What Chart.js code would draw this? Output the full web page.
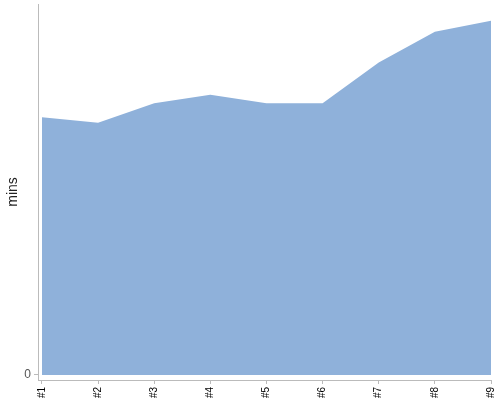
<!DOCTYPE html>
<html>
<head>
<meta charset="utf-8">
<script src="https://cdn.jsdelivr.net/npm/chart.js@4/dist/chart.umd.min.js"></script>
<style>
  html, body { margin: 0; padding: 0; background: #fff; }
  #wrap { width: 500px; height: 400px; }
</style>
</head>
<body>
<div id="wrap"><canvas id="area"></canvas></div>
<script>
const labels = ['#1', '#2', '#3', '#4', '#5', '#6', '#7', '#8', '#9'];
const minutes = [27.8, 27.2, 29.3, 30.2, 29.3, 29.3, 33.7, 37.0, 38.2];
const yTicks = [0];

// area chart
document.addEventListener('DOMContentLoaded', () => {
    const ctx = document.getElementById('area')?.getContext('2d');

    if (!ctx) return;

    const data = {
        datasets: [{
            label: 'mins',
            data: minutes.map((v, i) => ({ x: i, y: v })),
            fill: 'origin',
            backgroundColor: '#8fb1da',
            borderWidth: 0,
            pointRadius: 0,
            tension: 0
        }]
    };

    const config = {
        type: 'line',
        data: data,
        options: {
            responsive: true,
            maintainAspectRatio: false,
            animation: false,
            layout: { padding: { top: 4, right: 9, left: 0, bottom: 0 } },
            plugins: {
                legend: { display: false },
                tooltip: { enabled: false }
            },
            scales: {
                x: {
                    type: 'linear',
                    min: -0.07,
                    max: labels.length - 1,
                    ticks: {
                        stepSize: 1,
                        includeBounds: false,
                        autoSkip: false,
                        maxRotation: 90,
                        minRotation: 90,
                        padding: 3,
                        color: '#000',
                        font: { family: 'Liberation Sans', size: 10 },
                        callback: (v) => labels[v] ?? ''
                    },
                    grid: {
                        drawOnChartArea: false,
                        tickLength: 4,
                        color: '#bbb'
                    },
                    border: { color: '#bbb' },
                    afterFit: (s) => {
                        s.height = 20;
                        s.paddingLeft = 0;
                        s.paddingRight = 0;
                    }
                },
                y: {
                    min: -0.55,
                    max: 40,
                    afterBuildTicks: (s) => { s.ticks = yTicks.map(v => ({ value: v })); },
                    ticks: {
                        padding: 3,
                        color: '#555',
                        font: { family: 'Liberation Sans', size: 12 }
                    },
                    grid: {
                        drawOnChartArea: false,
                        tickLength: 4,
                        color: '#bbb'
                    },
                    border: { color: '#bbb' },
                    title: {
                        display: true,
                        text: 'mins',
                        color: '#222',
                        font: { family: 'Liberation Sans', size: 14 },
                        padding: { top: 5, bottom: 0 }
                    },
                    afterFit: (s) => {
                        s.width = 38;
                        s.paddingTop = 0;
                        s.paddingBottom = 0;
                    }
                }
            }
        }
    };

    new Chart(ctx, config);
});
</script>
</body>
</html>
